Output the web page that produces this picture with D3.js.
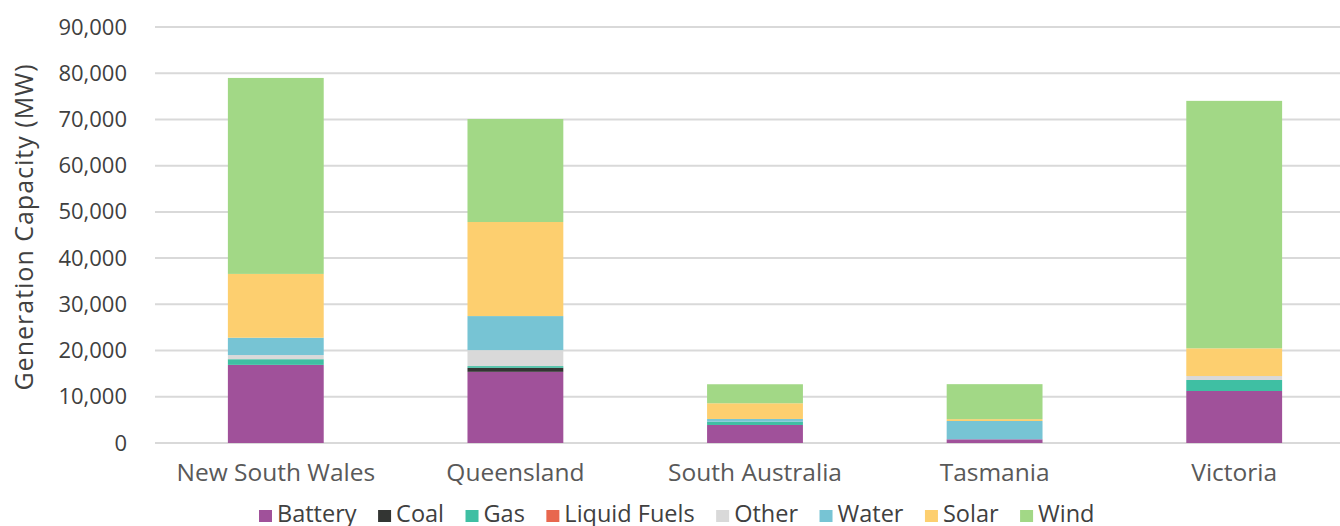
<!DOCTYPE html>
<html><head><meta charset="utf-8">
<script src="https://cdn.jsdelivr.net/npm/d3@7"></script>
<style>body{margin:0;background:#fff}svg{display:block}</style>
</head><body><svg id="c" width="1340" height="526"></svg>
<script>
const states = ["New South Wales","Queensland","South Australia","Tasmania","Victoria"];
const fuels = ["Battery","Coal","Gas","Liquid Fuels","Other","Water","Solar","Wind"];
const colors = ["#A0519A","#333533","#3FBFA3","#E8674E","#D9D9D9","#77C4D4","#FDCF6F","#A2D886"];
const battery = [16900,15400,3900,800,11250];
const coal    = [0,870,0,0,0];
const gas     = [1230,370,700,0,2380];
const liquid  = [0,0,0,0,0];
const other   = [900,3460,0,0,860];
const water   = [3750,7360,600,3960,0];
const solar   = [13800,20350,3400,400,6000];
const wind    = [42400,22290,4110,7570,53530];
const yTicks  = [0,10000,20000,30000,40000,50000,60000,70000,80000,90000];
const seriesVals = [battery,coal,gas,liquid,other,water,solar,wind];

const rows = states.map((s,i)=>{const r={state:s}; fuels.forEach((f,j)=>r[f]=seriesVals[j][i]); return r;});
const stack = d3.stack().keys(fuels)(rows);

const svg = d3.select("#c");
const font = "'Open Sans', sans-serif";
const x = d3.scaleBand().domain(states).range([156,1354]).paddingInner(0.6).paddingOuter(0.3);
const y = d3.scaleLinear().domain([0,90000]).range([443,27]);

svg.append("g").selectAll("line").data(yTicks).join("line")
  .attr("x1",155).attr("x2",1340).attr("y1",d=>y(d)).attr("y2",d=>y(d))
  .attr("stroke","#D9D9D9").attr("stroke-width",2);

const yAxis = svg.append("g").attr("transform","translate(140,0)")
  .call(d3.axisLeft(y).tickValues(yTicks).tickFormat(d3.format(",")).tickSize(0).tickPadding(13));
yAxis.select(".domain").remove();
yAxis.selectAll("text").attr("font-family",font).attr("font-size",22).attr("fill","#404040");

svg.append("g").selectAll("g").data(stack).join("g")
  .attr("fill",(d,i)=>colors[i])
  .selectAll("rect").data(d=>d).join("rect")
  .attr("x",d=>x(d.data.state)).attr("width",x.bandwidth())
  .attr("y",d=>y(d[1])).attr("height",d=>Math.max(0,y(d[0])-y(d[1])));

const xAxis = svg.append("g").attr("transform","translate(0,443)")
  .call(d3.axisBottom(x).tickSize(0).tickPadding(21));
xAxis.select(".domain").remove();
xAxis.selectAll("text").attr("font-family",font).attr("font-size",24.5).attr("fill","#595959");

svg.append("text").attr("transform","translate(33,227) rotate(-90)")
  .attr("text-anchor","middle").attr("font-family",font).attr("font-size",25)
  .attr("letter-spacing",1).attr("fill","#404040")
  .text("Generation Capacity (MW)");

const leg = svg.append("g").attr("transform","translate(259,522)");
let lx = 0;
fuels.forEach((f,i)=>{
  const g = leg.append("g").attr("transform",`translate(${lx},0)`);
  g.append("rect").attr("x",0).attr("y",-12).attr("width",13).attr("height",12).attr("fill",colors[i]);
  const t = g.append("text").attr("x",18).attr("y",0).attr("font-family",font).attr("font-size",23.5).attr("fill","#404040").text(f);
  lx += 18 + t.node().getComputedTextLength() + 21.5;
});
</script></body></html>
